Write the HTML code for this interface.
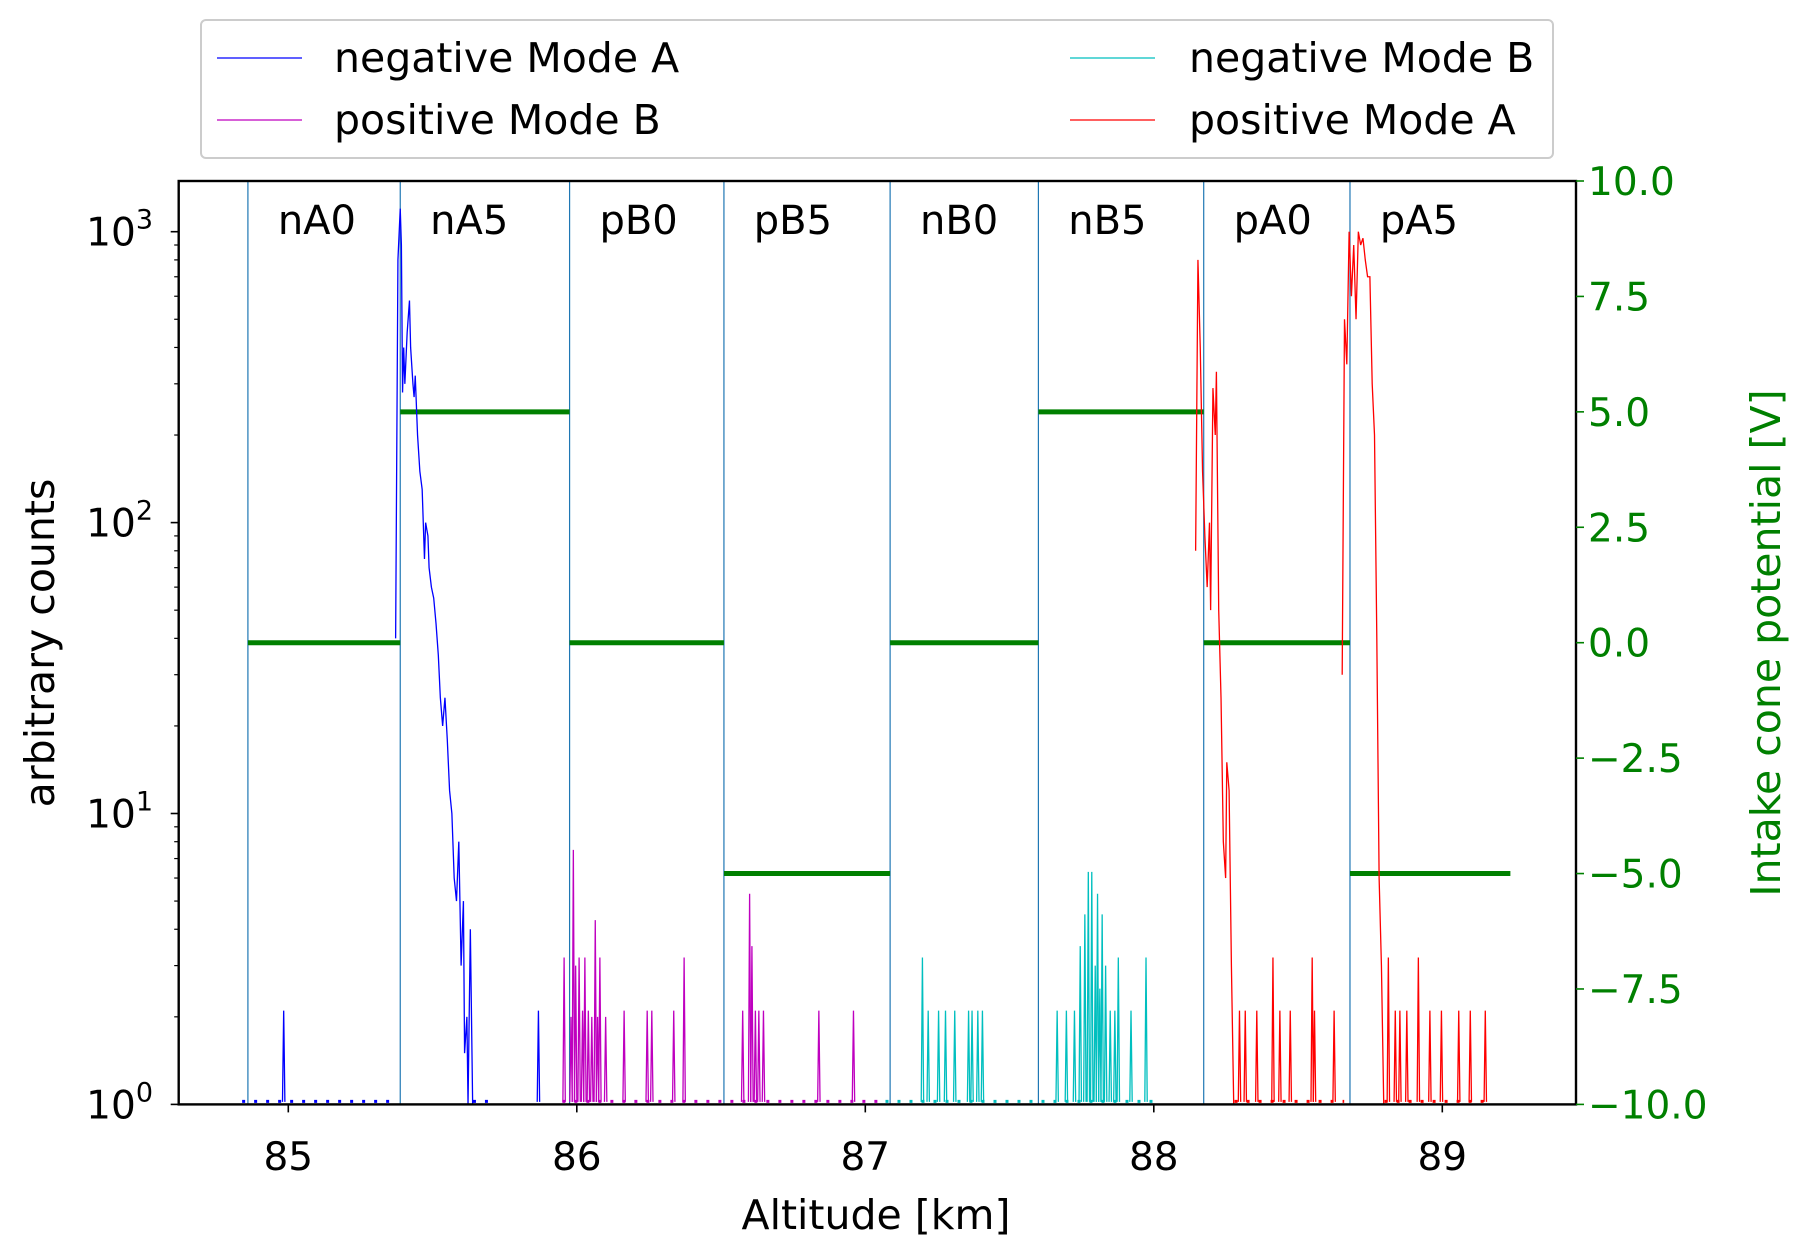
<!DOCTYPE html>
<html><head><meta charset="utf-8"><style>
body{margin:0;background:#fff}
svg{display:block;font-family:"DejaVu Sans","Liberation Sans",sans-serif}
</style></head><body>
<svg id="c" width="1806" height="1250" viewBox="0 0 1806 1250"></svg>
<script>
// boundaries of modes (km) and cone potential per mode
const modeLabels=["nA0","nA5","pB0","pB5","nB0","nB5","pA0","pA5"];
const modeStarts=[84.86,85.388,85.975,86.51,87.086,87.60,88.173,88.68];
const modeEnds=[85.388,85.975,86.51,87.086,87.60,88.173,88.68,89.236];
const potentials=[0,5,0,-5,0,5,0,-5];
const xTicks=[85,86,87,88,89];
const yTicks=[0,1,2,3];
const rTicks=[-10,-7.5,-5,-2.5,0,2.5,5,7.5,10];
// negative Mode A
const nAalt=[85.372,85.380,85.388,85.392,85.396,85.400,85.404,85.412,85.420,85.424,85.432,85.436,85.440,85.448,85.456,85.464,85.472,85.476,85.484,85.488,85.496,85.504,85.512,85.520,85.527,85.535,85.543,85.551,85.559,85.567,85.575,85.583,85.591,85.599,85.607,85.611,85.619,85.623,85.631,85.639,85.68];
const nAval=[40,800,1200,900,280,400,300,450,580,400,300,270,320,200,150,130,75,100,90,70,60,55,45,35,25,20,25,18,12,10,6,5,8,3,5,1.5,2,1,4,1,1];
const nAspAlt=[84.984,85.867];
const nAspVal=[2.1,2.1];
// positive Mode B spikes
const pBalt=[85.956,85.980,85.988,85.996,86.008,86.020,86.028,86.040,86.052,86.064,86.072,86.080,86.100,86.164,86.244,86.260,86.336,86.372,86.575,86.599,86.607,86.619,86.631,86.647,86.839,86.959];
const pBval=[3.2,2,7.5,3,3.2,2.1,3.2,2.1,2,4.3,2,3.2,2,2.1,2.1,2.1,2.1,3.2,2.1,5.3,3.5,2.1,2.1,2.1,2.1,2.1];
// negative Mode B
const nBalt=[87.198,87.218,87.254,87.278,87.310,87.358,87.370,87.390,87.406,87.665,87.697,87.725,87.745,87.761,87.773,87.785,87.797,87.805,87.813,87.821,87.833,87.849,87.865,87.877,87.921,87.973];
const nBval=[3.2,2.1,2.1,2.1,2.1,2.1,2.1,2.1,2.1,2.1,2.1,2.1,3.5,4.5,6.3,6.3,3,5.3,2.5,4.5,3,2.1,2.1,3.2,2.1,3.2];
// positive Mode A (continuous parts)
const pA0alt=[88.145,88.153,88.161,88.169,88.177,88.185,88.193,88.197,88.205,88.213,88.217,88.225,88.233,88.241,88.249,88.253,88.261,88.269,88.277];
const pA0val=[80,800,400,150,90,60,100,50,290,200,330,50,25,8,6,15,12,3,1];
const pA5alt=[88.653,88.661,88.669,88.677,88.685,88.693,88.701,88.709,88.717,88.725,88.733,88.741,88.749,88.757,88.765,88.773,88.781,88.789,88.797];
const pA5val=[30,500,350,1000,600,900,500,1000,900,950,800,700,700,300,200,40,6,3,1];
const pAspAlt=[88.297,88.317,88.357,88.413,88.437,88.473,88.549,88.557,88.625,88.813,88.837,88.853,88.877,88.917,88.957,88.997,89.057,89.097,89.149];
const pAspVal=[2.1,2.1,2.1,3.2,2.1,2.1,3.2,2.1,2.1,3.2,2.1,2.1,2.1,3.2,2.1,2.1,2.1,2.1,2.1];

const L=178.7,R=1576,T=181,B=1104.4;
const X=k=>288.3+(k-85)*288.5;
const Y=c=>B-Math.log10(c)*290.9;
const YR=v=>642.7-v*46.17;
const NS="http://www.w3.org/2000/svg";
const svg=document.getElementById('c');
function mk(t,a,p){const e=document.createElementNS(NS,t);for(const k in a)e.setAttribute(k,a[k]);(p||svg).appendChild(e);return e;}
function txt(x,y,s,a){const e=mk('text',Object.assign({x:x,y:y},a));e.textContent=s;return e;}

modeStarts.forEach((s,i)=>{
  const l=mk('line',{x1:X(s),x2:X(s),y1:T,y2:B,stroke:'#1f77b4','stroke-width':1.2});
  
  
  const t=txt(X(s)+69,234,modeLabels[i],{'font-size':40,'text-anchor':'middle'});
  
  
});
potentials.forEach((v,i)=>{
  const l=mk('line',{x1:X(modeStarts[i]),x2:X(modeEnds[i]),y1:YR(v),y2:YR(v),stroke:'#008000','stroke-width':5});
  
  
});
function series(alt,val,col,name,spA,spV){
  let pts=[];
  alt.forEach((a,i)=>pts.push([a,val[i]]));
  if(pts.length){const p=mk('polyline',{points:pts.map(q=>X(q[0])+','+Y(q[1])).join(' '),fill:'none',stroke:col,'stroke-width':1.3});
    }
  (spA||[]).forEach((a,i)=>{
    const p=mk('polyline',{points:`${X(a)-1.2},${Y(1.02)} ${X(a)},${Y(spV[i])} ${X(a)+1.2},${Y(1.02)}`,fill:'none',stroke:col,'stroke-width':1.3});
    
  });
}
[[84.84,85.36,'#0000ff'],[85.64,85.72,'#0000ff'],[85.95,87.07,'#c000c0'],[87.07,88.02,'#00bfbf'],[88.28,88.66,'#ff0000'],[88.8,89.17,'#ff0000']].forEach(b=>{
  const l=mk('line',{x1:X(b[0]),x2:X(b[1]),y1:B-3,y2:B-3,stroke:b[2],'stroke-width':3,'stroke-dasharray':'3 9'});
  
});
series(nAalt,nAval,'#0000ff','negative-mode-a',nAspAlt,nAspVal);
series([],[],'#bf00bf','positive-mode-b',pBalt,pBval);
series([],[],'#00bfbf','negative-mode-b',nBalt,nBval);
series(pA0alt,pA0val,'#ff0000','positive-mode-a-0');
series(pA5alt,pA5val,'#ff0000','positive-mode-a-5',pAspAlt,pAspVal);

const fr=mk('rect',{x:L,y:T,width:R-L,height:B-T,fill:'none',stroke:'#000','stroke-width':2.4});

xTicks.forEach(k=>{mk('line',{x1:X(k),x2:X(k),y1:B,y2:B+8,stroke:'#000','stroke-width':1.6});
  const t=txt(X(k),1170,String(k),{'font-size':39,'text-anchor':'middle'});
  });
yTicks.forEach(d=>{mk('line',{x1:L-8,x2:L,y1:Y(10**d),y2:Y(10**d),stroke:'#000','stroke-width':1.6});
  const t=mk('text',{x:153,y:Y(10**d)+14,'font-size':39,'text-anchor':'end'});
  t.innerHTML='10<tspan dy="-17" font-size="27">'+d+'</tspan>';
  
  if(d<3)for(let m=2;m<10;m++)mk('line',{x1:L-4.5,x2:L,y1:Y(m*10**d),y2:Y(m*10**d),stroke:'#000','stroke-width':1.2});});
for(let m=2;m<=9;m++){if(Y(m*1000)>T)mk('line',{x1:L-4.5,x2:L,y1:Y(m*1000),y2:Y(m*1000),stroke:'#000','stroke-width':1.2});}
rTicks.forEach(v=>{mk('line',{x1:R,x2:R+8,y1:YR(v),y2:YR(v),stroke:'#008000','stroke-width':1.6});
  const t=txt(R+12,YR(v)+14,(v<0?'\u2212':'')+Math.abs(v).toFixed(1),{'font-size':39,fill:'#008000'});
  });
let t=txt(876,1229,'Altitude [km]',{'font-size':41,'text-anchor':'middle'});

t=txt(0,0,'arbitrary counts',{'font-size':41,'text-anchor':'middle',transform:'translate(54,643) rotate(-90)'});

t=txt(0,0,'Intake cone potential [V]',{'font-size':41,'text-anchor':'middle',fill:'#008000',transform:'translate(1780,643) rotate(-90)'});


const lg=mk('g',{});
mk('rect',{x:201,y:20,width:1352,height:138,rx:5,fill:'#fff',stroke:'#ccc','stroke-width':2},lg);
[['negative Mode A','#0000ff',217,334,58],['positive Mode B','#bf00bf',217,334,120],['negative Mode B','#00bfbf',1070,1189,58],['positive Mode A','#ff0000',1070,1189,120]].forEach(e=>{
  const g=mk('g',{},lg);
  mk('line',{x1:e[2],x2:e[2]+85,y1:e[4],y2:e[4],stroke:e[1],'stroke-width':1.3},g);
  const tt=mk('text',{x:e[3],y:e[4]+14,'font-size':41},g);tt.textContent=e[0];
});
</script>
</body></html>
